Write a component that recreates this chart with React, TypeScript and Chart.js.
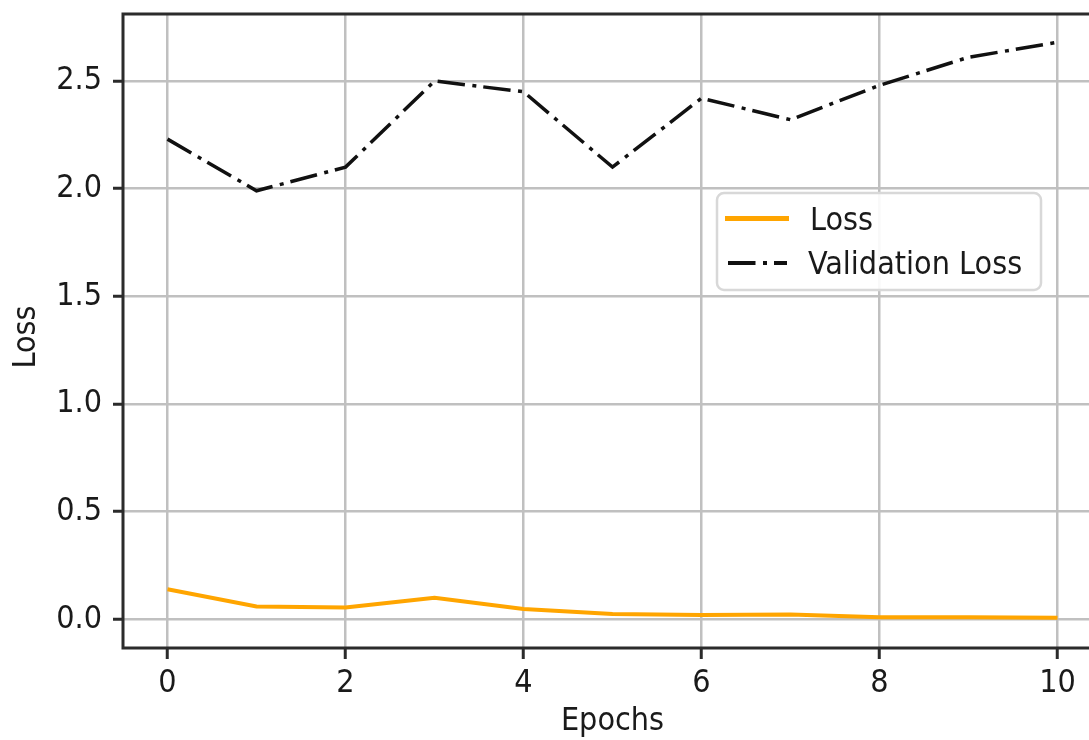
import React, { useEffect, useRef } from 'react';
import { Chart, registerables } from 'chart.js';

Chart.register(...registerables);

const epochs = [0, 1, 2, 3, 4, 5, 6, 7, 8, 9, 10];
const lossValues = [0.14, 0.06, 0.055, 0.1, 0.048, 0.025, 0.02, 0.023, 0.01, 0.01, 0.007];
const valLossValues = [2.23, 1.99, 2.1, 2.5, 2.45, 2.1, 2.42, 2.32, 2.48, 2.61, 2.68];
const xTicks = [0, 2, 4, 6, 8, 10];
const yTicks = [0, 0.5, 1.0, 1.5, 2.0, 2.5];
const seriesNames = ['Loss', 'Validation Loss'];
const xTitle = 'Epochs';
const yTitle = 'Loss';

const FONT = '"DejaVu Sans Condensed", "DejaVu Sans", sans-serif';
const SPINE = '#2b2b2b';
const GRID = '#c0c0c0';
const ORANGE = '#FFA500';
const DARK = '#111111';
const VAL_DASH = [27.5, 7.5, 4, 7];

const framePlugin = {
  id: 'frameAndLegend',
  afterDatasetsDraw(chart: any) {
    const { ctx, chartArea } = chart;
    ctx.save();
    ctx.strokeStyle = SPINE;
    ctx.lineWidth = 3;
    ctx.strokeRect(chartArea.left, chartArea.top, chartArea.right - chartArea.left, chartArea.bottom - chartArea.top);
    ctx.restore();
  },
  afterDraw(chart: any) {
    const { ctx, chartArea } = chart;
    ctx.save();

    // y-axis title
    ctx.save();
    ctx.translate(27, (chartArea.top + chartArea.bottom) / 2 + 6);
    ctx.rotate(-Math.PI / 2);
    ctx.fillStyle = '#1a1a1a';
    ctx.font = `32px ${FONT}`;
    ctx.textAlign = 'center';
    ctx.textBaseline = 'middle';
    ctx.fillText(yTitle, 0, 0);
    ctx.restore();

    const x = 717, y = 193, w = 324, h = 97;
    ctx.beginPath();
    ctx.roundRect(x, y, w, h, 7);
    ctx.fillStyle = 'rgba(255,255,255,0.9)';
    ctx.fill();
    ctx.strokeStyle = '#d8d8d8';
    ctx.lineWidth = 2.5;
    ctx.stroke();

    // Loss handle
    ctx.beginPath();
    ctx.moveTo(725, 218.5);
    ctx.lineTo(789, 218.5);
    ctx.strokeStyle = ORANGE;
    ctx.lineWidth = 5;
    ctx.stroke();
    // Validation handle
    ctx.beginPath();
    ctx.setLineDash(VAL_DASH);
    ctx.moveTo(728, 263);
    ctx.lineTo(787, 263);
    ctx.strokeStyle = DARK;
    ctx.lineWidth = 4;
    ctx.stroke();
    ctx.setLineDash([]);

    ctx.fillStyle = '#1a1a1a';
    ctx.font = `32px ${FONT}`;
    ctx.textBaseline = 'alphabetic';
    ctx.textAlign = 'left';
    ctx.fillText(seriesNames[0], 810, 230);
    ctx.fillText(seriesNames[1], 808, 274);
    ctx.restore();
  },
};

export default function App() {
  const ref = useRef<HTMLCanvasElement | null>(null);

  useEffect(() => {
    if (!ref.current) return;
    const chart = new Chart(ref.current, {
      type: 'line',
      data: {
        datasets: [
          {
            label: seriesNames[0],
            data: epochs.map((e, i) => ({ x: e, y: lossValues[i] })),
            borderColor: ORANGE,
            backgroundColor: ORANGE,
            borderWidth: 4,
            pointRadius: 0,
            tension: 0,
          },
          {
            label: seriesNames[1],
            data: epochs.map((e, i) => ({ x: e, y: valLossValues[i] })),
            borderColor: DARK,
            backgroundColor: DARK,
            borderWidth: 3.5,
            borderDash: VAL_DASH,
            pointRadius: 0,
            tension: 0,
          },
        ],
      },
      options: {
        animation: false,
        responsive: false,
        devicePixelRatio: 1,
        layout: { padding: { left: 0, top: 14, right: 8, bottom: 0 } },
        plugins: {
          legend: { display: false },
          tooltip: { enabled: false },
        },
        scales: {
          x: {
            type: 'linear',
            min: -0.5,
            max: 10.5,
            afterBuildTicks: (scale: any) => {
              scale.ticks = xTicks.map((v) => ({ value: v }));
            },
            afterFit: (scale: any) => {
              scale.height = 92;
              scale.paddingLeft = 0;
              scale.paddingRight = 0;
            },
            border: { display: false },
            grid: {
              color: GRID,
              lineWidth: 2.5,
              drawTicks: true,
              tickLength: 11,
              tickColor: SPINE,
              tickWidth: 3,
            },
            ticks: {
              color: '#1a1a1a',
              font: { family: FONT, size: 32 },
              padding: 5,
              maxRotation: 0,
              callback: (v: any) => String(v),
            },
            title: {
              display: true,
              text: xTitle,
              color: '#1a1a1a',
              font: { family: FONT, size: 32, lineHeight: 1 },
              padding: { top: 0, bottom: 2 },
            },
          },
          y: {
            type: 'linear',
            min: -0.133,
            max: 2.811,
            afterBuildTicks: (scale: any) => {
              scale.ticks = yTicks.map((v) => ({ value: v }));
            },
            afterFit: (scale: any) => {
              scale.width = 123;
              scale.paddingTop = 0;
              scale.paddingBottom = 0;
            },
            border: { display: false },
            grid: {
              color: GRID,
              lineWidth: 2.5,
              drawTicks: true,
              tickLength: 10,
              tickColor: SPINE,
              tickWidth: 3,
            },
            ticks: {
              color: '#1a1a1a',
              font: { family: FONT, size: 32 },
              padding: 11,
              callback: (v: any) => Number(v).toFixed(1),
            },
            title: { display: false },
          },
        },
      },
      plugins: [framePlugin],
    });
    return () => chart.destroy();
  }, []);

  return (
    <div
      style={{
        position: 'fixed',
        left: 0,
        top: 0,
        width: 1089,
        height: 740,
        overflow: 'hidden',
        background: '#ffffff',
      }}
    >
      <canvas ref={ref} width={1110} height={740} style={{ display: 'block' }} />
    </div>
  );
}
